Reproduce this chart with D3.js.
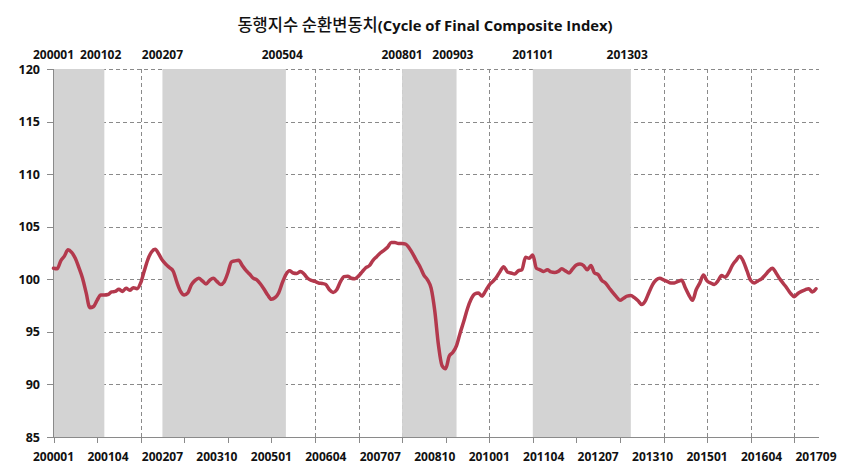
<!DOCTYPE html>
<html>
<head>
<meta charset="utf-8">
<script src="https://cdn.jsdelivr.net/npm/d3@7"></script>
<style>
  body { margin: 0; background: #fff; }
  text { font-family: "Open Sans", "Noto Sans", sans-serif; font-weight: bold; fill: #111; }
</style>
</head>
<body>
<svg id="chart" width="855" height="473"></svg>
<script>
// monthly cycle values, 200001 onwards
var cycleValues = [
  101.05, 101.0, 101.75, 102.2, 102.8, 102.55, 102.0, 101.1, 100.1, 98.7,
  97.3, 97.4, 98.0, 98.5, 98.5, 98.55, 98.8, 98.85, 99.05, 98.85,
  99.15, 98.95, 99.2, 99.1, 99.65, 100.8, 101.9, 102.6, 102.85, 102.4,
  101.8, 101.4, 101.1, 100.75, 99.7, 98.85, 98.5, 98.7, 99.5, 99.9,
  100.1, 99.85, 99.55, 99.9, 100.1, 99.8, 99.5, 99.75, 100.6, 101.65,
  101.75, 101.8, 101.3, 100.85, 100.5, 100.1, 99.95, 99.55, 99.05, 98.5,
  98.1, 98.25, 98.7, 99.65, 100.45, 100.8, 100.6, 100.55, 100.75, 100.5,
  100.1, 99.9, 99.8, 99.65, 99.6, 99.5, 99.0, 98.75, 99.0, 99.75,
  100.25, 100.3, 100.1, 100.05, 100.3, 100.7, 101.1, 101.3, 101.8, 102.15,
  102.5, 102.75, 103.05, 103.5, 103.5, 103.4, 103.4, 103.35, 102.95, 102.4,
  101.75, 101.15, 100.4, 99.95, 99.15, 97.0, 93.8, 91.8, 91.5, 92.7,
  93.05, 93.7, 94.9, 96.0, 97.2, 98.1, 98.6, 98.7, 98.4, 98.9,
  99.45, 99.8, 100.2, 100.75, 101.2, 100.7, 100.6, 100.5, 100.8, 100.9,
  102.1, 102.0, 102.3, 101.05, 100.9, 100.75, 100.9, 100.7, 100.65, 100.75,
  101.0, 100.8, 100.6, 101.0, 101.35, 101.45, 101.3, 100.9, 101.3, 100.6,
  100.45, 99.9, 99.65, 99.2, 98.75, 98.35, 98.0, 98.2, 98.4, 98.45,
  98.25, 97.95, 97.6, 97.95, 98.75, 99.5, 99.95, 100.1, 99.95, 99.8,
  99.65, 99.65, 99.8, 99.9, 99.2, 98.5, 98.0, 99.0, 99.65, 100.4,
  99.85, 99.65, 99.5, 99.85, 100.35, 100.2, 100.65, 101.35, 101.8, 102.2,
  101.7, 100.8, 99.9, 99.65, 99.85, 100.05, 100.4, 100.8, 101.05, 100.6,
  100.05, 99.6, 99.15, 98.65, 98.35, 98.65, 98.85, 99.0, 99.1, 98.8,
  99.1
];

var yTicks = [85, 90, 95, 100, 105, 110, 115, 120];
var xTickLabels = ["200001", "200104", "200207", "200310", "200501", "200604", "200707",
  "200810", "201001", "201104", "201207", "201310", "201501", "201604", "201709"];

// peaks and troughs shown on top, shaded between each pair
var turningPoints = ["200001", "200102", "200207", "200504", "200801", "200903", "201101", "201303"];
var shadedPeriods = [
  ["200001", "200102"],
  ["200207", "200504"],
  ["200801", "200903"],
  ["201101", "201303"]
];

var titleKo = "동행지수 순환변동치";
var titleEn = "(Cycle of Final Composite Index)";

// month string "YYYYMM" -> index into cycleValues
function monthIndex(s) {
  return (+s.slice(0, 4) - 2000) * 12 + (+s.slice(4) - 1);
}

var svg = d3.select("#chart");

// plot area (note: "top" is a reserved window prop, so prefixed names)
var plotLeft = 53, plotRight = 819, plotTop = 69, plotBottom = 437;

var x = d3.scaleLinear().domain([0, cycleValues.length - 1]).range([53.5, 816]);
var y = d3.scaleLinear().domain([85, 120]).range([plotBottom, plotTop]);

var gridColor = "#8a8a8a";

// year boundaries every 12 months
var yearIdx = d3.range(0, cycleValues.length, 12);

// horizontal gridlines
svg.append("g").selectAll("line")
  .data(yTicks.filter(function (d) { return d > 85; }))
  .enter().append("line")
  .attr("x1", plotLeft).attr("x2", plotRight)
  .attr("y1", function (d) { return Math.round(y(d)) + 0.5; })
  .attr("y2", function (d) { return Math.round(y(d)) + 0.5; })
  .attr("stroke", gridColor)
  .attr("stroke-width", 1)
  .attr("stroke-dasharray", "4,3");

// vertical gridlines
svg.append("g").selectAll("line")
  .data(yearIdx.slice(1))
  .enter().append("line")
  .attr("x1", function (d) { return Math.round(x(d)) + 0.5; })
  .attr("x2", function (d) { return Math.round(x(d)) + 0.5; })
  .attr("y1", plotTop).attr("y2", plotBottom)
  .attr("stroke", gridColor)
  .attr("stroke-width", 1)
  .attr("stroke-dasharray", "4,3");

// shaded periods (drawn over grid)
svg.append("g").selectAll("rect")
  .data(shadedPeriods)
  .enter().append("rect")
  .attr("x", function (d) { return x(monthIndex(d[0])); })
  .attr("width", function (d) { return x(monthIndex(d[1]) + 1) - x(monthIndex(d[0])); })
  .attr("y", plotTop)
  .attr("height", plotBottom - plotTop)
  .attr("fill", "#d3d3d3");

// axis lines
svg.append("line")
  .attr("x1", plotLeft + 0.5).attr("x2", plotLeft + 0.5)
  .attr("y1", plotTop).attr("y2", plotBottom)
  .attr("stroke", gridColor);
svg.append("line")
  .attr("x1", plotLeft).attr("x2", plotRight)
  .attr("y1", plotBottom + 0.5).attr("y2", plotBottom + 0.5)
  .attr("stroke", gridColor);

// y ticks + labels
var yAxis = svg.append("g");
yAxis.selectAll("line")
  .data(yTicks)
  .enter().append("line")
  .attr("x1", plotLeft - 6).attr("x2", plotLeft)
  .attr("y1", function (d) { return Math.round(y(d)) + 0.5; })
  .attr("y2", function (d) { return Math.round(y(d)) + 0.5; })
  .attr("stroke", gridColor);
yAxis.selectAll("text")
  .data(yTicks)
  .enter().append("text")
  .attr("x", 40)
  .attr("y", function (d) { return y(d) + 4.5; })
  .attr("text-anchor", "end")
  .attr("font-size", "12.5px")
  .text(function (d) { return d; });

// x ticks at year boundaries
svg.append("g").selectAll("line")
  .data(yearIdx)
  .enter().append("line")
  .attr("x1", function (d) { return Math.round(x(d)) + 0.5; })
  .attr("x2", function (d) { return Math.round(x(d)) + 0.5; })
  .attr("y1", plotBottom).attr("y2", plotBottom + 6)
  .attr("stroke", gridColor);

// x labels every 15 months
svg.append("g").selectAll("text")
  .data(xTickLabels)
  .enter().append("text")
  .attr("x", function (d, i) { return x(i * 15); })
  .attr("y", 461)
  .attr("text-anchor", "middle")
  .attr("font-size", "12px")
  .text(function (d) { return d; });

// turning point labels on top
svg.append("g").selectAll("text")
  .data(turningPoints)
  .enter().append("text")
  .attr("x", function (d) { return x(monthIndex(d)); })
  .attr("y", 59)
  .attr("text-anchor", "middle")
  .attr("font-size", "12px")
  .text(function (d) { return d; });

// the cycle line
var line = d3.line()
  .x(function (d, i) { return x(i); })
  .y(function (d) { return y(d); })
  .curve(d3.curveMonotoneX);

svg.append("path")
  .datum(cycleValues)
  .attr("d", line)
  .attr("fill", "none")
  .attr("stroke", "#b3394d")
  .attr("stroke-width", 3.5)
  .attr("stroke-linejoin", "round")
  .attr("stroke-linecap", "round");

// title
var title = svg.append("text")
  .attr("x", 425)
  .attr("y", 31)
  .attr("text-anchor", "middle");
title.append("tspan")
  .style("font-family", "'Noto Sans CJK KR', sans-serif")
  .style("font-weight", "500")
  .attr("font-size", "16.5px")
  .text(titleKo);
title.append("tspan")
  .attr("font-size", "14.8px")
  .text(titleEn);
</script>
</body>
</html>
